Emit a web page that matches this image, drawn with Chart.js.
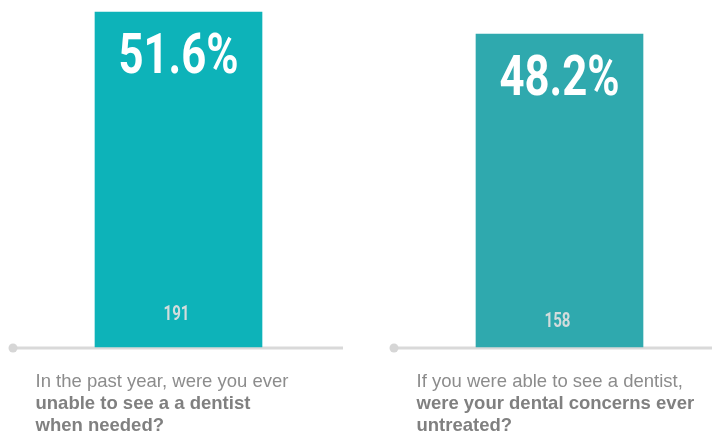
<!DOCTYPE html>
<html>
<head>
<meta charset="utf-8">
<script src="https://cdn.jsdelivr.net/npm/chart.js@4.4.1/dist/chart.umd.min.js"></script>
<style>
  html, body { margin: 0; padding: 0; background: #fff; }
  #wrap { width: 712px; height: 434px; position: relative; }
</style>
</head>
<body>
<div id="wrap"><canvas id="dental-chart"></canvas></div>
<script>
// values
const questions = ['unable', 'untreated'];
const percents = [51.6, 48.2];
const counts = [191, 158];
const plainLines = ['In the past year, were you ever', 'If you were able to see a dentist,'];
const boldLines = [
    ['unable to see a a dentist', 'when needed?'],
    ['were your dental concerns ever', 'untreated?']
];
const barColors = ['#0db3b9', '#2fa9ae'];

// draws the big percent, the count, the base line and the question text
const decorations = {
    id: 'decorations',
    beforeDatasetsDraw(chart) {
        const ctx = chart.ctx;
        const x = chart.scales.x;
        const base = chart.scales.y.getPixelForValue(0);
        ctx.save();
        questions.forEach((q, i) => {
            const cx = x.getPixelForValue(i);
            ctx.strokeStyle = '#d9d9d9';
            ctx.lineWidth = 3;
            ctx.beginPath();
            ctx.moveTo(cx - 165.5, base + 1);
            ctx.lineTo(cx + 164.5, base + 1);
            ctx.stroke();
            ctx.fillStyle = '#d6d6d6';
            ctx.beginPath();
            ctx.arc(cx - 165.5, base + 1, 4.5, 0, Math.PI * 2);
            ctx.fill();
        });
        ctx.restore();
    },
    afterDatasetsDraw(chart) {
        const ctx = chart.ctx;
        const meta = chart.getDatasetMeta(0);
        const base = chart.scales.y.getPixelForValue(0);
        ctx.save();
        meta.data.forEach((bar, i) => {
            const cx = bar.x;
            // percent
            ctx.save();
            ctx.translate(cx, bar.y + 61);
            ctx.scale(0.78, 1);
            ctx.fillStyle = '#ffffff';
            ctx.font = 'bold 56px Roboto';
            ctx.textAlign = 'center';
            ctx.textBaseline = 'alphabetic';
            ctx.fillText(percents[i].toFixed(1) + '%', 0, 0);
            ctx.restore();
            // count
            ctx.save();
            ctx.translate(cx - 2, i === 0 ? 320 : 327);
            ctx.scale(0.72, 1);
            ctx.fillStyle = '#d3dcdc';
            ctx.font = 'bold 21px Roboto';
            ctx.textAlign = 'center';
            ctx.fillText(String(counts[i]), 0, 0);
            ctx.restore();
            // question text
            const tx = cx - 143;
            ctx.textAlign = 'left';
            ctx.fillStyle = '#8c8c8c';
            ctx.font = '18.5px "Liberation Sans", Arial, sans-serif';
            ctx.fillText(plainLines[i], tx, base + 40);
            ctx.fillStyle = '#808080';
            ctx.font = 'bold 18.5px "Liberation Sans", Arial, sans-serif';
            boldLines[i].forEach((line, k) => {
                ctx.fillText(line, tx, base + 62 + k * 21.5);
            });
        });
        ctx.restore();
    }
};

new Chart(document.querySelector('#dental-chart').getContext('2d'), {
    type: 'bar',
    data: {
        labels: questions,
        datasets: [{
            data: percents,
            backgroundColor: barColors,
            borderWidth: 0,
            barThickness: 167,
            clip: false
        }]
    },
    options: {
        responsive: true,
        maintainAspectRatio: false,
        animation: false,
        layout: {
            padding: { left: 178.5, right: 152.5, top: 0, bottom: 87 }
        },
        plugins: {
            legend: { display: false },
            tooltip: { enabled: false }
        },
        scales: {
            x: { display: false, offset: false },
            y: { display: false, min: 0, max: 53.45 }
        }
    },
    plugins: [decorations]
});
</script>
</body>
</html>
